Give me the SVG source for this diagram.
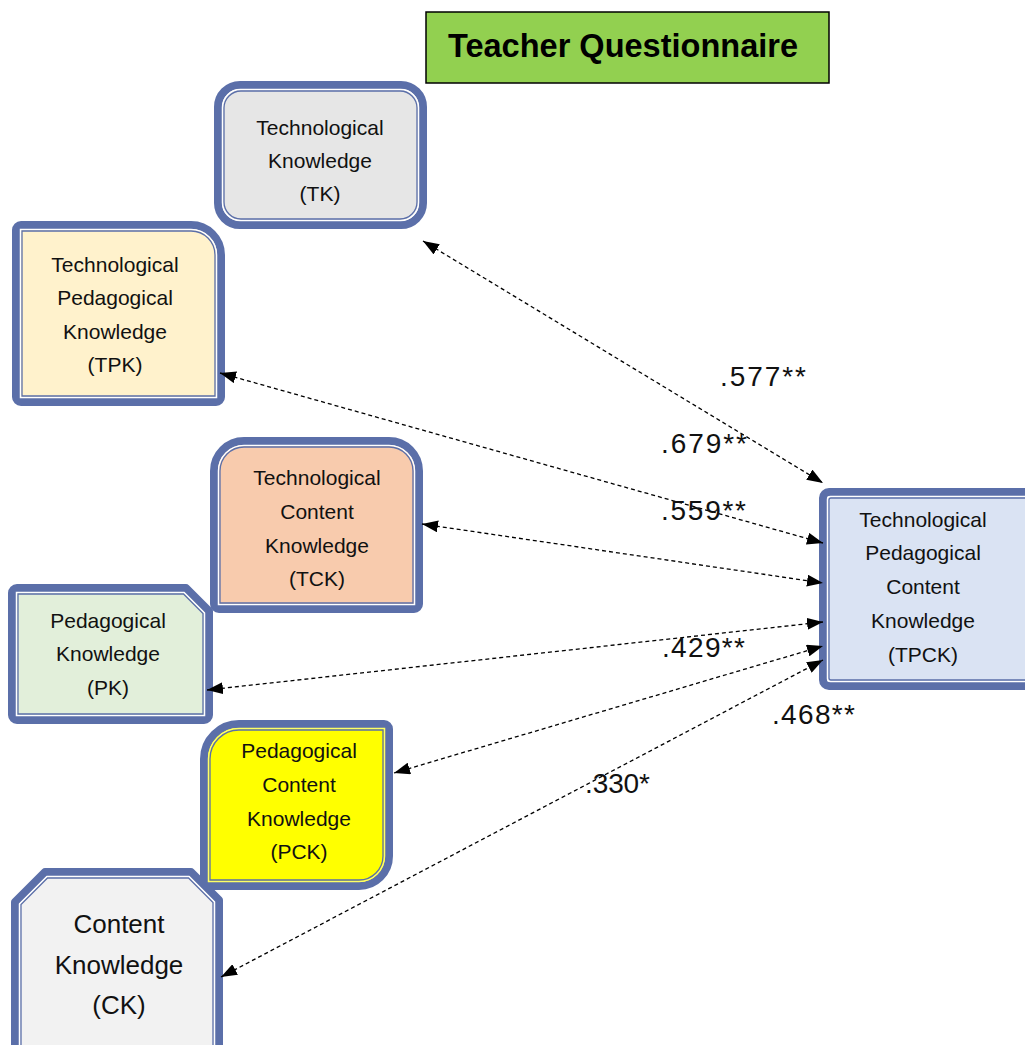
<svg xmlns="http://www.w3.org/2000/svg" width="1025" height="1045" viewBox="0 0 1025 1045">
<style>
.main{stroke:#5B6FA9;stroke-width:8;stroke-linejoin:round}
.gap{fill:none;stroke:#ffffff;stroke-width:1.5}
.thin{fill:none;stroke:#5B6FA9;stroke-width:1.3}
.nt{font-family:"Liberation Sans",Arial,sans-serif;font-size:21px;fill:#111;text-anchor:middle}
.ck{font-size:26px}
.lbl{font-family:"Liberation Sans",Arial,sans-serif;font-size:28px;fill:#111}
.con line{stroke:#000;stroke-width:1.3;stroke-dasharray:4 3;marker-start:url(#ah);marker-end:url(#ah)}
</style>
<defs>
<marker id="ah" viewBox="0 0 16 12" refX="16" refY="6" markerWidth="16" markerHeight="12" markerUnits="userSpaceOnUse" orient="auto-start-reverse">
<path d="M0,0 L16,6 L0,12 Z" fill="#000"/>
</marker>
</defs>
<rect width="1025" height="1045" fill="#fff"/>

<g id="title">
<rect x="426" y="12" width="403" height="71" fill="#92D050" stroke="#000" stroke-width="1.5"/>
<text x="448" y="57" font-family="'Liberation Sans',Arial,sans-serif" font-size="33" font-weight="bold" fill="#000" textLength="350" lengthAdjust="spacingAndGlyphs">Teacher Questionnaire</text>
</g>

<g id="TK">
<rect class="main" x="218" y="85" width="205" height="140" rx="22" fill="#E6E6E6"/>
<rect class="gap" x="222.5" y="89.5" width="196" height="131" rx="18"/>
<rect class="thin" x="224" y="91" width="193" height="128" rx="17"/>
<text class="nt" x="320" y="135">Technological</text>
<text class="nt" x="320" y="168">Knowledge</text>
<text class="nt" x="320" y="201">(TK)</text>
</g>

<g id="TPK">
<path class="main" fill="#FFF2CC" d="M21,225 H191 A30,30 0 0 1 221,255 V397 A5,5 0 0 1 216,402 H21 A5,5 0 0 1 16,397 V230 A5,5 0 0 1 21,225 Z"/>
<path class="gap" d="M20.5,229.5 H191 A25.5,25.5 0 0 1 216.5,255 V397.5 H20.5 Z"/>
<path class="thin" d="M22,231 H191 A24,24 0 0 1 215,255 V396 H22 Z"/>
<text class="nt" x="115" y="272">Technological</text>
<text class="nt" x="115" y="305">Pedagogical</text>
<text class="nt" x="115" y="339">Knowledge</text>
<text class="nt" x="115" y="372">(TPK)</text>
</g>

<g id="TCK">
<path class="main" fill="#F8CBAD" d="M214,471 A30,30 0 0 1 244,441 H389 A30,30 0 0 1 419,471 V604 A5,5 0 0 1 414,609 H219 A5,5 0 0 1 214,604 Z"/>
<path class="gap" d="M218.5,471 A25.5,25.5 0 0 1 244,445.5 H389 A25.5,25.5 0 0 1 414.5,471 V604.5 H218.5 Z"/>
<path class="thin" d="M220,471 A24,24 0 0 1 244,447 H389 A24,24 0 0 1 413,471 V603 H220 Z"/>
<text class="nt" x="317" y="485">Technological</text>
<text class="nt" x="317" y="519">Content</text>
<text class="nt" x="317" y="553">Knowledge</text>
<text class="nt" x="317" y="586">(TCK)</text>
</g>

<g id="PK">
<path class="main" fill="#E2EFDA" d="M17,588 H186 L209,611 V715 A5,5 0 0 1 204,720 H17 A5,5 0 0 1 12,715 V593 A5,5 0 0 1 17,588 Z"/>
<path class="gap" d="M16.5,592.5 H184 L204.5,613 V715.5 H16.5 Z"/>
<path class="thin" d="M18,594 H183.5 L203,613.5 V714 H18 Z"/>
<text class="nt" x="108" y="628">Pedagogical</text>
<text class="nt" x="108" y="661">Knowledge</text>
<text class="nt" x="108" y="695">(PK)</text>
</g>

<g id="PCK">
<path class="main" fill="#FFFF00" d="M204,759 A35,35 0 0 1 239,724 H384 A5,5 0 0 1 389,729 V856 A30,30 0 0 1 359,886 H209 A5,5 0 0 1 204,881 Z"/>
<path class="gap" style="stroke:#FFFF66" d="M208.5,759 A30.5,30.5 0 0 1 239,728.5 H384.5 V856 A25.5,25.5 0 0 1 359,881.5 H208.5 Z"/>
<path class="thin" d="M210,759 A29,29 0 0 1 239,730 H383 V856 A24,24 0 0 1 359,880 H210 Z"/>
<text class="nt" x="299" y="758">Pedagogical</text>
<text class="nt" x="299" y="792">Content</text>
<text class="nt" x="299" y="826">Knowledge</text>
<text class="nt" x="299" y="859">(PCK)</text>
</g>

<g id="CK">
<path class="main" fill="#F2F2F2" d="M15,1052 V902 L45,872 H191 L219,900 V1052 Z"/>
<path class="gap" d="M19.5,1052 V904 L47,876.5 H189 L214.5,902 V1052"/>
<path class="thin" d="M21,1052 V904.5 L47.5,878 H188.5 L213,902.5 V1052"/>
<text class="nt ck" x="119" y="933">Content</text>
<text class="nt ck" x="119" y="974">Knowledge</text>
<text class="nt ck" x="119" y="1014">(CK)</text>
</g>

<g id="TPCK">
<rect class="main" x="823" y="492" width="220" height="194" rx="6" fill="#DAE3F3"/>
<rect class="gap" x="827.5" y="496.5" width="211" height="185" rx="3"/>
<rect class="thin" x="829" y="498" width="208" height="182" rx="2"/>
<text class="nt" x="923" y="527">Technological</text>
<text class="nt" x="923" y="560">Pedagogical</text>
<text class="nt" x="923" y="594">Content</text>
<text class="nt" x="923" y="628">Knowledge</text>
<text class="nt" x="923" y="662">(TPCK)</text>
</g>

<g id="connectors" class="con">
<line x1="423" y1="241" x2="823" y2="483"/>
<line x1="220" y1="373" x2="823" y2="543"/>
<line x1="422" y1="524" x2="823" y2="583"/>
<line x1="207" y1="690" x2="823" y2="622"/>
<line x1="394" y1="773" x2="823" y2="646"/>
<line x1="221" y1="977" x2="823" y2="660"/>
</g>

<g id="labels">
<text class="lbl" x="720" y="386" textLength="86" lengthAdjust="spacing">.577**</text>
<text class="lbl" x="661" y="453" textLength="86" lengthAdjust="spacing">.679**</text>
<text class="lbl" x="661" y="520" textLength="85" lengthAdjust="spacing">.559**</text>
<text class="lbl" x="662" y="657" textLength="83" lengthAdjust="spacing">.429**</text>
<text class="lbl" x="772" y="724" textLength="83" lengthAdjust="spacing">.468**</text>
<text class="lbl" x="585" y="793" textLength="65" lengthAdjust="spacing">.330*</text>
</g>
</svg>
